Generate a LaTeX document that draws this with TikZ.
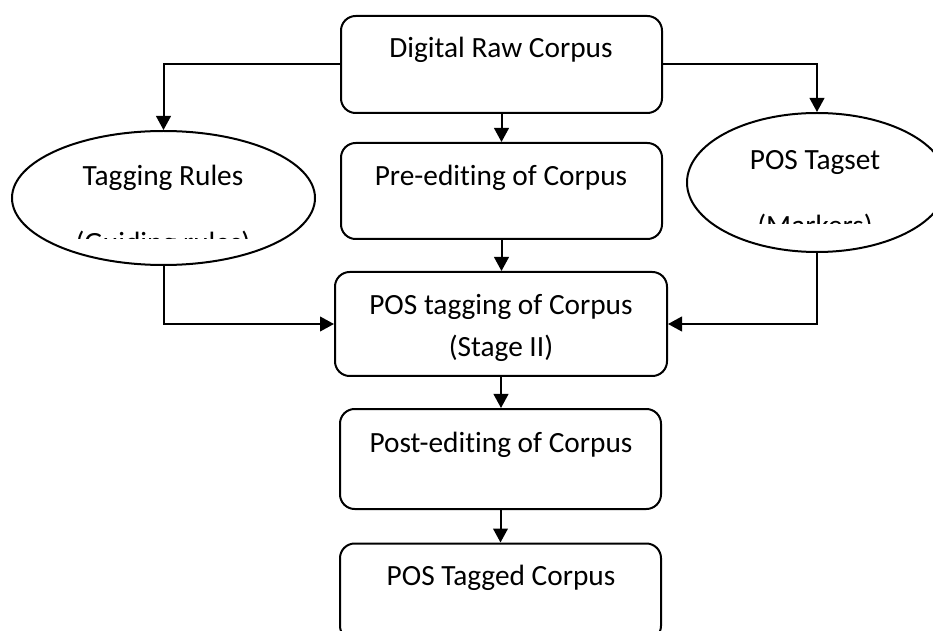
\documentclass[tikz,border=0pt]{standalone}
\usepackage{fontspec}
\setmainfont[Ligatures=NoCommon]{Carlito}
\usetikzlibrary{arrows.meta,shapes.geometric}
\begin{document}
\begin{tikzpicture}[x=0.75pt,y=-0.75pt,
  box/.style={draw,line width=1.5pt,rounded corners=11pt,inner sep=0pt},
  oval/.style={draw,ellipse,line width=1.5pt,inner sep=0pt},
  txt/.style={font=\fontsize{22}{26}\selectfont,anchor=base,inner sep=0pt},
  conn/.style={line width=1.5pt,-{Triangle[length=10.5pt,width=11pt]}}]
\useasboundingbox (0,0) rectangle (933,631);
\clip (0,0) rectangle (933,631);
% boxes
\node[box,minimum width=240.75pt,minimum height=72.75pt] (b1) at (501.5,64.5) {};
\node[box,minimum width=240.75pt,minimum height=72pt] (b2) at (501.5,191) {};
\node[box,minimum width=249pt,minimum height=78pt] (b3) at (501,324) {};
\node[box,minimum width=240.75pt,minimum height=75pt] (b4) at (500.5,459) {};
\node[box,minimum width=240.75pt,minimum height=72.75pt] (b5) at (500.5,592) {};
% ellipses
\node[oval,minimum width=227.25pt,minimum height=100.5pt] (el) at (163.5,198) {};
\node[oval,minimum width=195pt,minimum height=104.25pt] (er) at (817,182.5) {};
% texts
\node[txt] (t1) at (501,58) {Digital Raw Corpus};
\node[txt] (t2) at (501,186) {Pre-editing of Corpus};
\node[txt] (t3a) at (501,315) {POS tagging of Corpus};
\node[txt] (t3b) at (501,357) {(Stage II)};
\node[txt] (t4) at (501,452) {Post-editing of Corpus};
\node[txt] (t5) at (501,585) {POS Tagged Corpus};
\node[txt] (tl1) at (163,186) {Tagging Rules};
\node[txt] (tr1) at (815,170) {POS Tagset};
\begin{scope}
  \clip (0,0) rectangle (933,238.5);
  \node[txt] (tl2) at (163,253) {(Guiding rules)};
\end{scope}
\begin{scope}
  \clip (0,0) rectangle (933,224);
  \node[txt] (tr2) at (815,236) {(Markers)};
\end{scope}
% connectors
\draw[conn] (b1.west) -| (el.north);
\draw[conn] (b1.east) -| (er.north);
\draw[conn] (b1.south) -- (b1.south |- b2.north);
\draw[conn] (b2.south) -- (b2.south |- b3.north);
\draw[conn] (el.south) |- (b3.west);
\draw[conn] (er.south) |- (b3.east);
\draw[conn] (b3.south) -- (b3.south |- b4.north);
\draw[conn] (b4.south) -- (b4.south |- b5.north);
\end{tikzpicture}
\end{document}
